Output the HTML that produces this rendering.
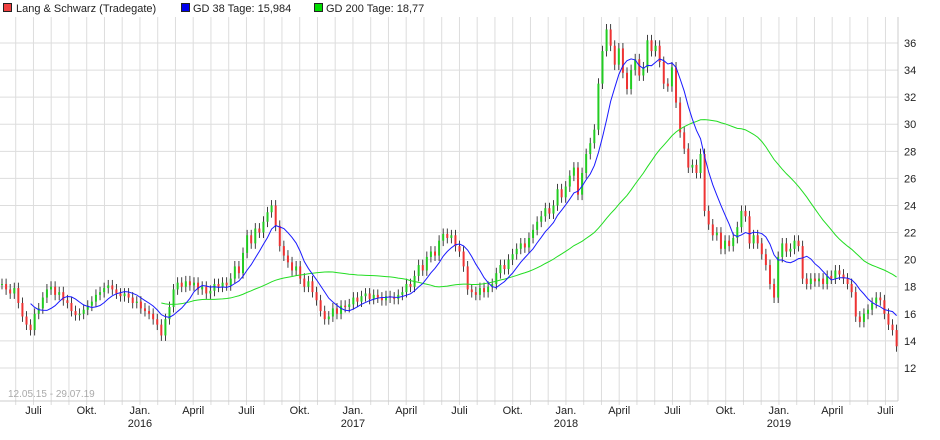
<!DOCTYPE html>
<html><head><meta charset="utf-8"><style>
body{margin:0;background:#fff;font-family:"Liberation Sans",sans-serif}
svg text{font-family:"Liberation Sans",sans-serif;font-size:11px;fill:#222}
</style></head><body>
<svg id="c" width="940" height="435">
<g>
<rect x="3.5" y="3.5" width="8" height="8" fill="#f04040" stroke="#222"/>
<text x="16" y="12">Lang &amp; Schwarz (Tradegate)</text>
<rect x="181.5" y="3.5" width="8" height="8" fill="#0000ee" stroke="#222"/>
<text x="193" y="12">GD 38 Tage: 15,984</text>
<rect x="314.5" y="3.5" width="8" height="8" fill="#00dd00" stroke="#222"/>
<text x="326" y="12">GD 200 Tage: 18,77</text>
</g>
<g id="grid"></g>
<g id="marks"></g>
<g id="axes"></g>
<text x="8" y="397" style="fill:#aaa;font-size:10px">12.05.15 - 29.07.19</text>
</svg>
<script>
const closes=[18.2,17.8,17.5,17.9,16.8,15.8,15.2,14.8,16.0,16.4,17.2,17.8,18.0,17.4,17.6,17.0,16.8,16.2,15.9,16.0,
16.3,16.6,16.9,17.4,17.6,17.9,18.1,17.8,17.5,17.3,17.5,17.2,16.8,16.9,16.4,16.2,16.0,15.6,15.2,14.4,
15.6,16.5,17.8,18.3,18.0,18.4,18.1,18.3,17.8,18.0,17.5,17.7,18.2,18.0,18.3,18.1,18.6,19.5,19.0,20.5,
21.8,21.2,22.3,22.0,22.8,23.5,24.0,22.5,21.0,20.3,19.8,19.2,19.5,18.6,18.0,18.4,17.6,17.0,16.2,15.6,
15.8,16.4,16.0,16.6,16.5,16.7,17.2,16.9,17.3,17.5,17.1,17.4,17.2,17.0,17.3,17.2,17.1,17.4,17.6,18.2,
18.0,18.8,19.6,19.2,20.2,20.6,20.3,21.4,21.9,21.6,21.8,21.0,20.6,19.5,17.8,17.6,17.4,17.9,17.6,18.0,
18.2,19.0,19.6,19.3,20.0,20.4,20.8,21.2,20.9,21.6,22.2,22.8,23.2,23.8,23.4,24.0,25.2,24.6,25.4,26.2,
26.8,24.8,26.4,27.8,28.6,29.6,33.0,35.4,37.0,35.8,34.4,35.6,33.8,32.6,34.0,34.8,33.6,34.2,36.2,35.4,
35.8,34.6,33.0,32.8,34.2,31.6,29.4,28.2,26.8,27.0,26.4,27.8,23.6,22.6,21.8,22.0,20.8,21.4,21.0,21.6,
22.4,23.6,23.2,21.2,21.8,21.2,20.4,19.6,18.2,17.2,20.2,21.2,20.6,20.8,21.4,21.0,18.6,18.2,18.6,18.4,
18.6,18.2,18.8,18.6,19.2,18.9,18.6,18.2,17.6,15.8,15.4,16.0,16.3,16.8,17.2,17.0,16.0,15.2,14.8,13.6];
const yTicks=[12,14,16,18,20,22,24,26,28,30,32,34,36];
const monthLabels=["Juli","Okt.","Jan.","April","Juli","Okt.","Jan.","April","Juli","Okt.","Jan.","April","Juli","Okt.","Jan.","April","Juli"];
const monthIdx=[1,4,7,10,13,16,19,22,25,28,31,34,37,40,43,46,49];
const years=["2016","2017","2018","2019"];
const yearIdx=[7,19,31,43];
const NS="http://www.w3.org/2000/svg";
const L=0,R=898,T=17,B=401;
const y=v=>43+(36-v)*13.54;
const xw=i=>2+i*4.085;
const xm=m=>15.7+m*17.75;
function mk(t,a,p){const e=document.createElementNS(NS,t);for(const k in a)e.setAttribute(k,a[k]);p.appendChild(e);return e;}
const grid=document.getElementById('grid'),marks=document.getElementById('marks'),axes=document.getElementById('axes');
for(let m=0;xm(m)<R;m++){const l=mk('line',{x1:xm(m),x2:xm(m),y1:T,y2:B+4,stroke:'#ddd'},grid);
}
yTicks.forEach(v=>{const l=mk('line',{x1:L,x2:R,y1:y(v),y2:y(v),stroke:'#ddd'},grid);

const t=mk('text',{x:R+6,y:y(v)+4},axes);t.textContent=v;
});
mk('line',{x1:L,x2:R,y1:B,y2:B,stroke:'#ccc'},grid);
mk('line',{x1:R,x2:R,y1:T,y2:B,stroke:'#ccc'},grid);
monthLabels.forEach((s,i)=>{const t=mk('text',{x:xm(monthIdx[i]),y:414,'text-anchor':'middle'},axes);t.textContent=s;
});
years.forEach((s,i)=>{const t=mk('text',{x:xm(yearIdx[i]),y:427,'text-anchor':'middle'},axes);t.textContent=s;
});
function ma(n){const out=[];for(let i=n-1;i<closes.length;i++){let s=0;for(let j=i-n+1;j<=i;j++)s+=closes[j];out.push([i,s/n]);}return out;}
function line(pts,col,name){const p=mk('polyline',{points:pts.map(([i,v])=>xw(i)+','+y(v)).join(' '),fill:'none',stroke:col,'stroke-width':1},marks);
}
closes.forEach((c,i)=>{const o=i?closes[i-1]:c;const hi=Math.max(o,c)+0.4,lo=Math.min(o,c)-0.4;const x=xw(i);
const w=mk('line',{x1:x,x2:x,y1:y(hi),y2:y(lo),stroke:'#111','stroke-width':0.8},marks);

const r=mk('rect',{x:x-1,width:2,y:y(Math.max(o,c)),height:Math.max(1,Math.abs(y(o)-y(c))),fill:c>=o?'#22cc22':'#ee3333'},marks);
});
line(ma(40),'#22dd22','gd200-line');
line(ma(8),'#1a1aff','gd38-line');
</script>
</body></html>
